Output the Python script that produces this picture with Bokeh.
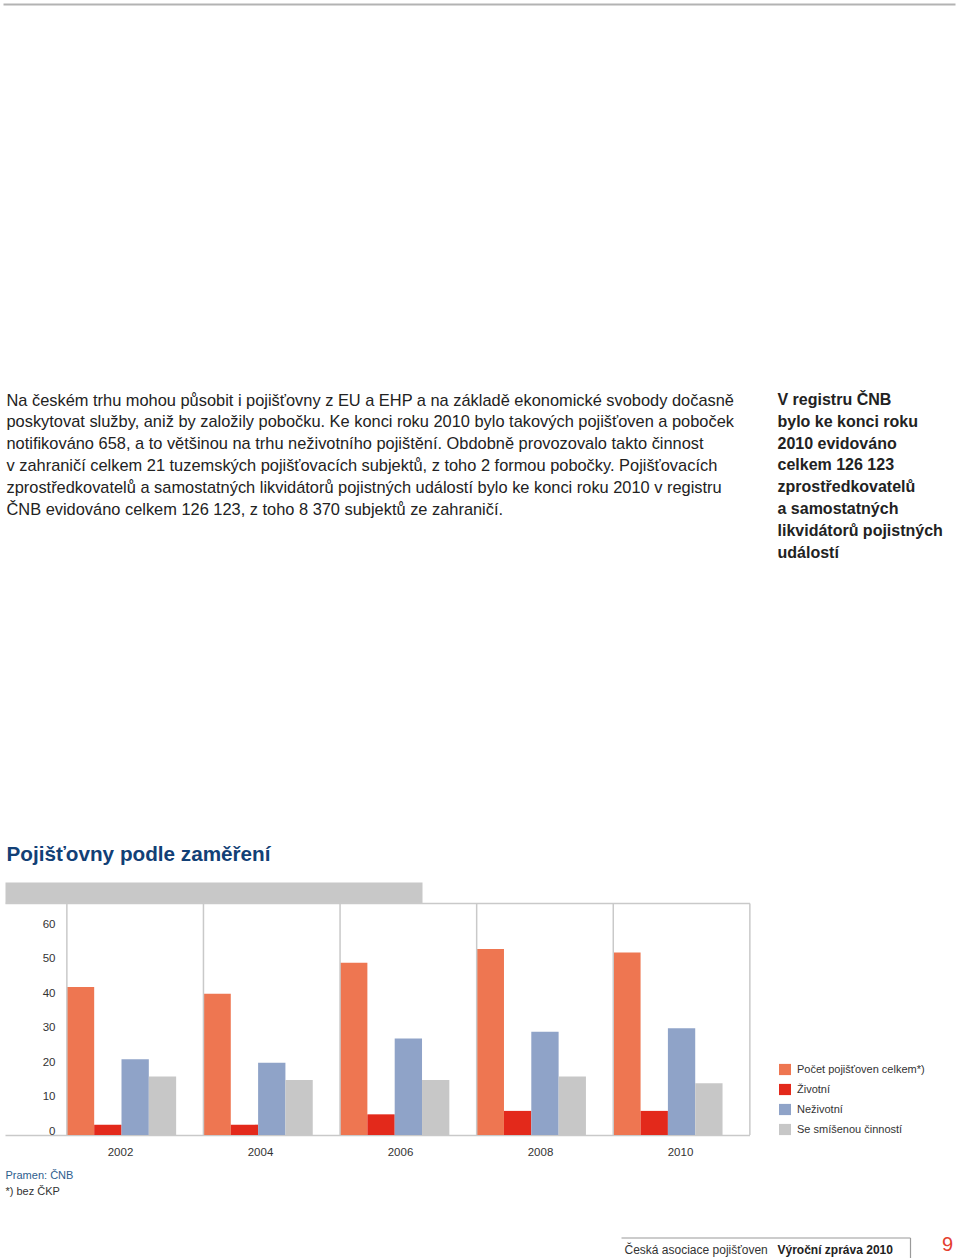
from bokeh.plotting import figure
from bokeh.models import Range1d, ColumnDataSource, Legend, LegendItem
from bokeh.transform import dodge
from bokeh.core.properties import value
from bokeh.embed import file_html
from bokeh.resources import INLINE

# ---------------- data ----------------
years = [2002, 2004, 2006, 2008, 2010]
x_labels = ["2002", "2004", "2006", "2008", "2010"]
celkem = [43, 41, 50, 54, 53]
zivotni = [3, 3, 6, 7, 7]
nezivotni = [22, 21, 28, 30, 31]
smisene = [17, 16, 16, 17, 15]
series_names = ["Počet pojišťoven celkem*)", "Životní", "Neživotní", "Se smíšenou činností"]
y_ticks = [0, 10, 20, 30, 40, 50, 60]

title_text = "Pojišťovny podle zaměření"
source_note = "Pramen: ČNB"
foot_note = "*) bez ČKP"

para_lines = [
    "Na českém trhu mohou působit i pojišťovny z EU a EHP a na základě ekonomické svobody dočasně",
    "poskytovat služby, aniž by založily pobočku. Ke konci roku 2010 bylo takových pojišťoven a poboček",
    "notifikováno 658, a to většinou na trhu neživotního pojištění. Obdobně provozovalo takto činnost",
    "v zahraničí celkem 21 tuzemských pojišťovacích subjektů, z toho 2 formou pobočky. Pojišťovacích",
    "zprostředkovatelů a samostatných likvidátorů pojistných událostí bylo ke konci roku 2010 v registru",
    "ČNB evidováno celkem 126 123, z toho 8 370 subjektů ze zahraničí.",
]
side_lines = [
    "V registru ČNB",
    "bylo ke konci roku",
    "2010 evidováno",
    "celkem 126 123",
    "zprostředkovatelů",
    "a samostatných",
    "likvidátorů pojistných",
    "událostí",
]
footer_regular = "Česká asociace pojišťoven"
footer_bold = "Výroční zpráva 2010"
page_number = "9"

# ---------------- styles / layout ----------------
W, H = 960, 1258
FONT_NAME = "Liberation Sans"
FONT = value(FONT_NAME)
colors = ["#ee7651", "#e3291b", "#8fa3c8", "#c7c7c7"]
frame_color = "#c9c9c9"

base_px = 1134.5      # pixel row of value 0
ppu = 3.444           # pixels per unit
chart_top_px = 903.0
yr0_px = 121.0        # pixel of first year's bar-group centre
ppy = 68.3            # pixels per year
lab0_px = 120.0
lab_ppy = 70.0

p = figure(width=W, height=H, x_range=Range1d(0, W), y_range=Range1d(H, 0),
           output_backend="svg", toolbar_location=None, min_border=0)
p.axis.visible = False
p.grid.visible = False
p.outline_line_color = None
p.background_fill_color = "white"
p.border_fill_color = "white"

p.extra_y_ranges = {"val": Range1d(-(H - base_px) / ppu, base_px / ppu)}
p.extra_x_ranges = {
    "yr": Range1d(years[0] - yr0_px / ppy, years[0] + (W - yr0_px) / ppy),
    "lab": Range1d(years[0] - lab0_px / lab_ppy, years[0] + (W - lab0_px) / lab_ppy),
}
top_val = (base_px - chart_top_px) / ppu

# top rule
p.segment(x0=[3], y0=[4], x1=[955], y1=[4], line_color="#b3b3b3", line_width=2)

# paragraph text
p.text(x=[6] * len(para_lines), y=[399 + 21.8 * i for i in range(len(para_lines))],
       text=para_lines, text_font=FONT, text_font_size="16.4px", text_color="#222222",
       text_baseline="middle", text_align="left")
p.text(x=[777] * len(side_lines), y=[399 + 21.8 * i for i in range(len(side_lines))],
       text=side_lines, text_font=FONT, text_font_size="16px", text_font_style="bold",
       text_color="#222222", text_baseline="middle", text_align="left")

# chart title
p.text(x=[6], y=[853], text=[title_text], text_font=FONT, text_font_size="20.7px",
       text_font_style="bold", text_color="#124076", text_baseline="middle")

# grey band above chart
p.quad(left=[5], right=[422], top=[882], bottom=[903], fill_color="#c8c8c8", line_color=None)

# frame horizontal lines
p.segment(x0=[5, 5], y0=[chart_top_px, base_px + 0.5], x1=[749.5, 749.5],
          y1=[chart_top_px, base_px + 0.5], line_color=frame_color, line_width=1.5)

# bars
src = ColumnDataSource(dict(year=years, celkem=celkem, zivotni=zivotni,
                            nezivotni=nezivotni, smisene=smisene))
cols = ["celkem", "zivotni", "nezivotni", "smisene"]
offsets = [-0.6, -0.2, 0.2, 0.6]
renderers = []
for col, off, c in zip(cols, offsets, colors):
    r = p.vbar(x=dodge("year", off), top=col, bottom=0, width=0.4, source=src,
               x_range_name="yr", y_range_name="val", fill_color=c, line_color=None)
    renderers.append(r)

# group separators
sep_x = [y - 0.8 for y in years] + [years[-1] + 1.2]
p.segment(x0=sep_x, y0=[0] * len(sep_x), x1=sep_x, y1=[top_val] * len(sep_x),
          x_range_name="yr", y_range_name="val", line_color=frame_color, line_width=1.5)

# y tick labels
p.text(x=[55] * len(y_ticks), y=y_ticks, text=[str(t) for t in y_ticks], y_range_name="val",
       text_font=FONT, text_font_size="11.5px", text_color="#333333",
       text_align="right", text_baseline="middle", y_offset=-4.5)

# x labels
p.text(x=years, y=[1151] * len(years), text=x_labels, x_range_name="lab",
       text_font=FONT, text_font_size="11.5px", text_color="#333333",
       text_align="center", text_baseline="middle")

# legend
legend = Legend(items=[LegendItem(label=n, renderers=[r]) for n, r in zip(series_names, renderers)],
                location=(777, H - 1136), glyph_width=15, glyph_height=14, label_height=14,
                spacing=6, padding=0, margin=0, label_standoff=5,
                label_text_font=FONT_NAME, label_text_font_size="11px", label_text_color="#333333",
                background_fill_alpha=0, border_line_color=None)
p.add_layout(legend)

# notes
p.text(x=[5], y=[1174], text=[source_note], text_font=FONT, text_font_size="11px",
       text_color="#2e5e8e", text_baseline="middle")
p.text(x=[5], y=[1190], text=[foot_note], text_font=FONT, text_font_size="11px",
       text_color="#333333", text_baseline="middle")

# footer
p.segment(x0=[621, 910], y0=[1237.5, 1237.5], x1=[910, 910], y1=[1237.5, 1258],
          line_color="#9a9a9a", line_width=1.2)
p.text(x=[624], y=[1249], text=[footer_regular], text_font=FONT, text_font_size="12px",
       text_color="#333333", text_baseline="middle")
p.text(x=[777], y=[1249], text=[footer_bold], text_font=FONT, text_font_size="12px",
       text_font_style="bold", text_color="#222222", text_baseline="middle")
p.text(x=[947], y=[1243], text=[page_number], text_font=FONT, text_font_size="20px",
       text_color="#e4402f", text_baseline="middle", text_align="center")

open("out.html", "w").write(file_html(p, INLINE))
